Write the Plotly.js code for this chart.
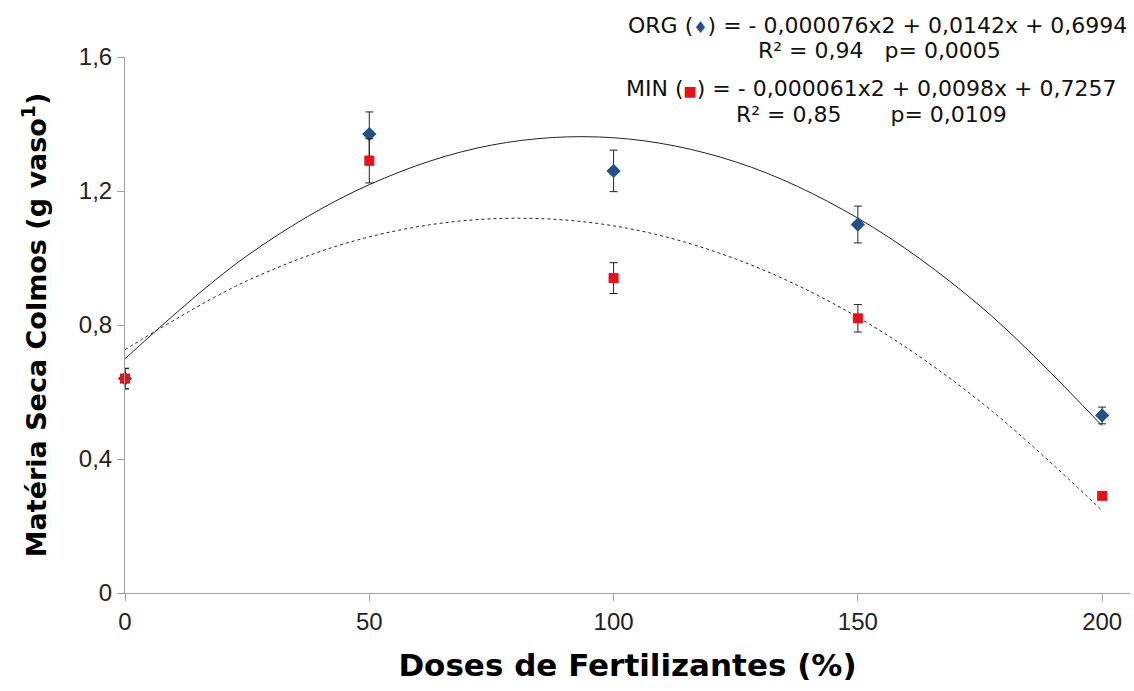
<!DOCTYPE html>
<html>
<head>
<meta charset="utf-8">
<script src="https://cdn.plot.ly/plotly-3.0.1.min.js"></script>
<style>html,body{margin:0;padding:0;background:#fff}#chart{width:1134px;height:691px}</style>
</head>
<body>
<div id="chart"></div>
<script>
// Doses (%)
const doses = [0, 50, 100, 150, 200];
// ORG (organic) means and error
const orgValues = [0.64, 1.37, 1.26, 1.10, 0.53];
const orgErrors = [0.03, 0.066, 0.062, 0.055, 0.025];
// MIN (mineral) means and error
const minValues = [0.64, 1.29, 0.94, 0.82, 0.29];
const minErrors = [0.031, 0.066, 0.046, 0.041, 0.01];
// Fitted trend curves
const curveX = [0, 25, 50, 75, 100, 125, 150, 175, 200];
const orgCurve = [0.699, 1.007, 1.219, 1.337, 1.359, 1.287, 1.119, 0.857, 0.499];
const minCurve = [0.726, 0.932, 1.063, 1.117, 1.096, 0.997, 0.823, 0.572, 0.246];
// Tick labels
const xTickVals = [0, 50, 100, 150, 200];
const xTickText = ["0", "50", "100", "150", "200"];
const yTickVals = [0, 0.4, 0.8, 1.2, 1.6];
const yTickText = ["0", "0,4", "0,8", "1,2", "1,6"];

const FONT = "Liberation Sans, Arial, sans-serif";
const WIDE = "DejaVu Sans, Liberation Sans, sans-serif";

const traces = [
  {x: curveX, y: minCurve, mode: "lines", line: {color: "#222", width: 1, dash: "3px,3px", shape: "spline"}, hoverinfo: "skip"},
  {x: curveX, y: orgCurve, mode: "lines", line: {color: "#222", width: 1, shape: "spline"}, hoverinfo: "skip"},
  {x: doses, y: orgValues, mode: "markers", cliponaxis: false,
   marker: {symbol: "diamond", size: 11, color: "#24508a"},
   error_y: {type: "data", array: orgErrors, visible: true, color: "#222", thickness: 1, width: 4}},
  {x: doses, y: minValues, mode: "markers", cliponaxis: false,
   marker: {symbol: "square", size: 10, color: "#e8101a"},
   error_y: {type: "data", array: minErrors, visible: true, color: "#222", thickness: 1, width: 4}}
];

const annFont = {family: WIDE, size: 22, color: "#111"};

const layout = {
  width: 1134, height: 691,
  margin: {l: 125, r: 4, t: 57, b: 98},
  paper_bgcolor: "#fff", plot_bgcolor: "#fff",
  showlegend: false,
  font: {family: FONT, color: "#222", size: 24},
  xaxis: {
    range: [0, 205.7], showgrid: false, zeroline: false,
    showline: true, linecolor: "#a0a0a0", linewidth: 1,
    ticks: "outside", ticklen: 7, tickcolor: "#a0a0a0",
    tickvals: xTickVals, ticktext: xTickText,
    tickfont: {family: FONT, size: 24, color: "#222"},
    title: {text: "<b>Doses de Fertilizantes (%)</b>", font: {family: WIDE, size: 31, color: "#000"}, standoff: 20}
  },
  yaxis: {
    range: [0, 1.6], showgrid: false, zeroline: false,
    showline: true, linecolor: "#a0a0a0", linewidth: 1,
    ticks: "outside", ticklen: 7, tickcolor: "#a0a0a0",
    tickvals: yTickVals, ticktext: yTickText,
    tickfont: {family: FONT, size: 24, color: "#222"},
    title: {text: "<b>Matéria Seca Colmos (g vaso<sup>1</sup>)</b>", font: {family: WIDE, size: 27, color: "#000"}, standoff: 24}
  },
  annotations: [
    {xref: "paper", yref: "paper", x: 0.999, y: 1.058, xanchor: "right", yanchor: "middle", showarrow: false,
     text: 'ORG (<span style="color:#24508a;font-size:16px">♦</span>) = - 0,000076x2 + 0,0142x + 0,6994', font: annFont},
    {xref: "paper", yref: "paper", x: 0.751, y: 1.013, xanchor: "center", yanchor: "middle", showarrow: false,
     text: 'R² = 0,94   p= 0,0005', font: annFont},
    {xref: "paper", yref: "paper", x: 0.989, y: 0.942, xanchor: "right", yanchor: "middle", showarrow: false,
     text: 'MIN (<span style="color:#e8101a;font-size:14px">■</span>) = - 0,000061x2 + 0,0098x + 0,7257', font: annFont},
    {xref: "paper", yref: "paper", x: 0.743, y: 0.892, xanchor: "center", yanchor: "middle", showarrow: false,
     text: 'R² = 0,85       p= 0,0109', font: annFont}
  ]
};

Plotly.newPlot("chart", traces, layout, {displayModeBar: false, staticPlot: true});
</script>
</body>
</html>
